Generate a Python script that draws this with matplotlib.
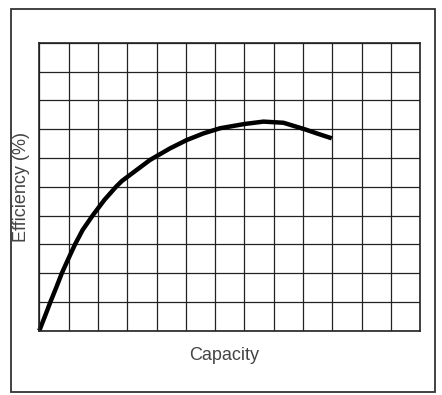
import matplotlib
matplotlib.use("Agg")
import matplotlib.pyplot as plt
from matplotlib.patches import Rectangle

# curve (grid units: 13 columns x 10 rows)
capacity = [0, 0.23, 0.38, 0.59, 0.77, 0.97, 1.22, 1.48, 1.82, 2.22, 2.62, 2.82,
            3.32, 3.78, 4.46, 5.03, 5.6, 6.17, 7.02, 7.65, 8.33, 9.07, 9.47, 9.98]
efficiency = [0, 0.6, 1.0, 1.53, 2.0, 2.45, 3.0, 3.5, 4.0, 4.54, 5.0, 5.2,
              5.58, 5.93, 6.33, 6.62, 6.85, 7.03, 7.18, 7.26, 7.22, 6.99, 6.85, 6.68]

n_cols = 13
n_rows = 10
x_label = "Capacity"
y_label = "Efficiency (%)"

plt.rcParams['font.family'] = ['Liberation Sans', 'DejaVu Sans']

fig = plt.figure(figsize=(4.42, 3.95), dpi=100)
ax = fig.add_axes([39.3 / 442, 1 - 330.7 / 395, 381 / 442, 288 / 395])

ax.set_xlim(0, n_cols)
ax.set_ylim(0, n_rows)
ax.set_xticks(range(n_cols + 1))
ax.set_yticks(range(n_rows + 1))
ax.tick_params(length=0, labelbottom=False, labelleft=False)
ax.grid(True, color="#222222", linewidth=0.9)
for s in ax.spines.values():
    s.set_linewidth(1.2)
    s.set_color("#222222")

ax.plot(capacity, efficiency, color="black", linewidth=3.2,
        solid_capstyle="butt", solid_joinstyle="round", clip_on=False)

# outer frame around the whole figure
fig.patches.append(Rectangle((11 / 442, 1 - 392 / 395), 424 / 442, 383 / 395,
                             transform=fig.transFigure, fill=False,
                             edgecolor="#333333", linewidth=1.3))

fig.text(224 / 442, 1 - 355 / 395, x_label, ha="center", va="center",
         fontsize=13, color="#444444")
fig.text(22 / 442, 1 - 187 / 395, y_label, ha="center", va="center",
         rotation=90, fontsize=13, color="#444444")

fig.savefig("out.png", dpi=100)
